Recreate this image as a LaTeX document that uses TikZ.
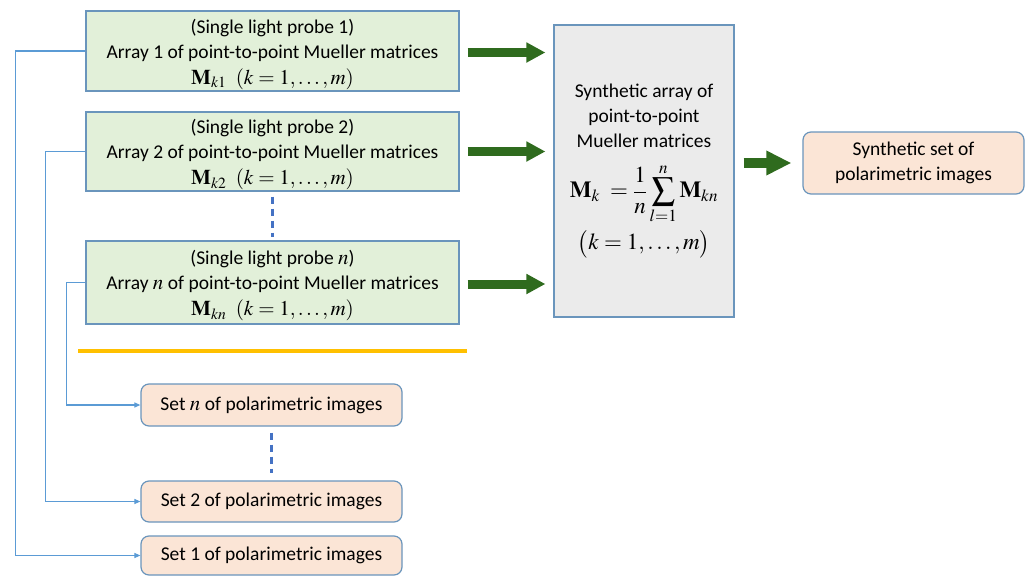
\documentclass[tikz,border=0pt]{standalone}
\usepackage{mathptmx}
\usepackage[no-math]{fontspec}
\setmainfont{Carlito}
\usetikzlibrary{arrows.meta}
\definecolor{gfill}{HTML}{E2F0D9}
\definecolor{pfill}{HTML}{FBE5D6}
\definecolor{grfill}{HTML}{EBEBEB}
\definecolor{bord}{HTML}{6A95BC}
\definecolor{cblue}{HTML}{5B9BD5}
\definecolor{dgreen}{HTML}{2F6B1E}
\definecolor{dblue}{HTML}{4472C4}
\definecolor{gold}{HTML}{FFC000}
\tikzset{
  txt/.style={font=\fontsize{19.5}{25}\selectfont},
  gbox/.style={txt, draw=bord, fill=gfill, line width=1.2pt, minimum width=373pt, minimum height=80pt, align=center, inner sep=0pt},
  pbox/.style={txt, draw=bord, fill=pfill, line width=1.2pt, rounded corners=8pt, minimum width=261pt, align=center, inner sep=0pt},
  sbox/.style={txt, draw=bord, fill=grfill, line width=1.2pt, minimum width=180pt, minimum height=292pt, align=center, inner sep=0pt},
  conn/.style={draw=cblue, line width=1.1pt, -{Triangle[length=6pt,width=5pt]}},
  garrow/.style={draw=dgreen, line width=9pt, -{Triangle[length=19pt,width=19pt]}},
  bigarrow/.style={draw=dgreen, line width=10pt, -{Triangle[length=25pt,width=23pt]}},
  vdash/.style={draw=dblue, line width=2.5pt, dash pattern=on 7pt off 5pt}
}
\newcommand{\mymath}[1]{{\fontsize{21}{25}\selectfont$#1$}}
\newcommand{\topstrut}{\rule{0pt}{21pt}}
\begin{document}
\begin{tikzpicture}[x=1pt,y=-1pt]
\useasboundingbox (0,0) rectangle (1026,576);
\node[gbox] (a1) at (272.5,51) {\topstrut(Single light probe 1)\\Array 1 of point-to-point Mueller matrices\\[1pt]\mymath{\mathbf{M}_{k1}\;\;(k=1,\ldots,m)}};
\node[gbox, minimum height=79pt] (a2) at (272.5,151.5) {\topstrut(Single light probe 2)\\Array 2 of point-to-point Mueller matrices\\[1pt]\mymath{\mathbf{M}_{k2}\;\;(k=1,\ldots,m)}};
\node[gbox, minimum height=83pt] (a3) at (272.5,282.5) {\topstrut(Single light probe \mymath{n})\\Array \mymath{n} of point-to-point Mueller matrices\\[1pt]\mymath{\mathbf{M}_{kn}\;\;(k=1,\ldots,m)}};
\node[sbox] (syn) at (644,171) {Synthetic array of\\point-to-point\\Mueller matrices\\[15pt]{\fontsize{23}{27}\selectfont$\displaystyle\mathbf{M}_k\;=\frac{1}{n}\sum_{l=1}^{n}\mathbf{M}_{kn}$}\\[5pt]{\fontsize{23}{27}\selectfont$\bigl(k=1,\ldots,m\bigr)$}};
\node[pbox, minimum width=221pt, minimum height=62pt] (ssyn) at (913.5,163) {Synthetic set of\\polarimetric images};
\node[pbox, minimum height=42pt] (sn) at (271.5,405) {Set \mymath{n} of polarimetric images};
\node[pbox, minimum height=41pt] (s2) at (271.5,501.5) {Set 2 of polarimetric images};
\node[pbox, minimum height=39pt] (s1) at (271.5,555.5) {Set 1 of polarimetric images};
% thick arrows
\draw[garrow] ([xshift=8pt,yshift=-1.5pt]a1.east) -- ([xshift=-8pt,yshift=-1.5pt]a1.east -| syn.west);
\draw[garrow] ([xshift=8pt]a2.east) -- ([xshift=-8pt]a2.east -| syn.west);
\draw[garrow] ([xshift=8pt,yshift=-1.5pt]a3.east) -- ([xshift=-8pt,yshift=-1.5pt]a3.east -| syn.west);
\draw[bigarrow] ([xshift=9pt]syn.east |- ssyn.west) -- ([xshift=-11pt]ssyn.west);
% dashed
\draw[vdash] ([yshift=-5pt]a2.south) -- ([yshift=3pt]a3.north);
\draw[vdash] ([yshift=-6pt]sn.south) -- ([yshift=7pt]s2.north);
% gold line
\draw[gold, line width=4.5pt] (78,351) -- (467,351);
% connectors
\draw[conn] (a1.west) -- ++(-70,0) |- (s1.west);
\draw[conn] (a2.west) -- ++(-40,0) |- (s2.west);
\draw[conn] (a3.west) -- ++(-19,0) |- (sn.west);
\end{tikzpicture}
\end{document}
